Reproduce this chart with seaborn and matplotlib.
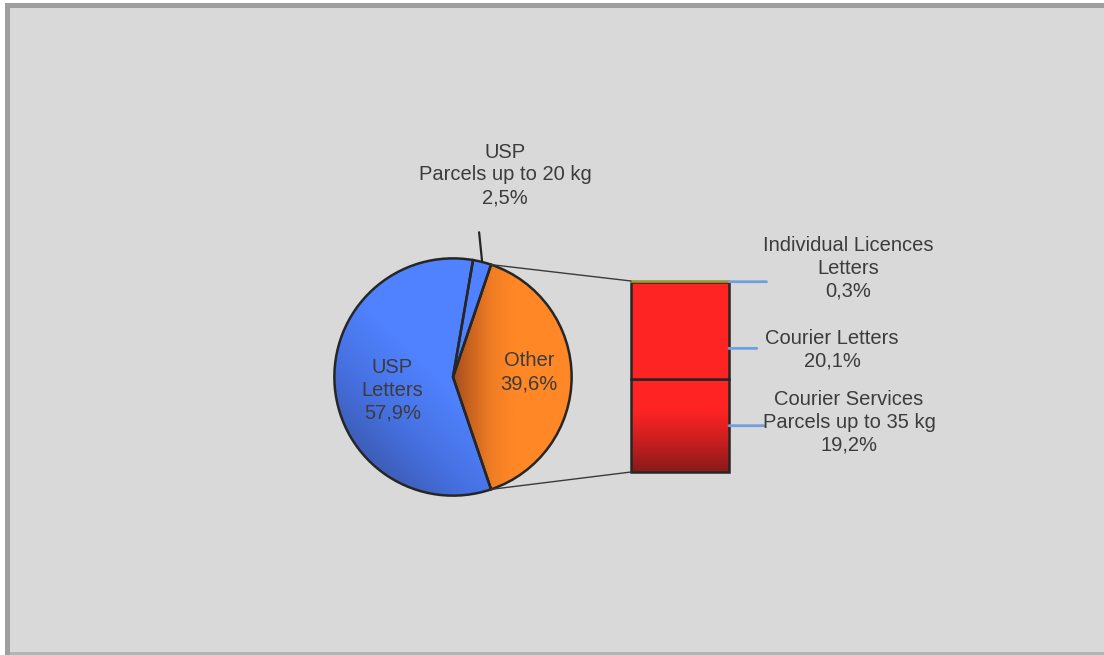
import numpy as np
import matplotlib
matplotlib.use("Agg")
import matplotlib.pyplot as plt
from matplotlib.patches import Rectangle, ConnectionPatch
from matplotlib.colors import LinearSegmentedColormap
import seaborn as sns

# Market shares (%)
pie_labels = ["Other", "USP\nParcels up to 20 kg", "USP\nLetters"]
pie_values = [39.6, 2.5, 57.9]
pie_texts = ["39,6%", "2,5%", "57,9%"]

bar_labels = ["Courier Services\nParcels up to 35 kg", "Courier Letters", "Individual Licences\nLetters"]
bar_values = [19.2, 20.1, 0.3]
bar_texts = ["19,2%", "20,1%", "0,3%"]

sns.set_theme(style="white")
plt.rcParams["font.family"] = ["Liberation Sans", "DejaVu Sans"]

W, H = 1104, 655
fig = plt.figure(figsize=(W / 100, H / 100), dpi=100, facecolor="white")


def fx(px):
    return px / W


def fy(py):
    return (H - py) / H


# frame
fig.patches.append(Rectangle((fx(5), 0), 1.0, (H - 3) / H, transform=fig.transFigure,
                             facecolor="#9e9e9e", edgecolor="none", zorder=-3))
fig.patches.append(Rectangle((fx(10), fy(652)), 1.0, (652 - 8) / H, transform=fig.transFigure,
                             facecolor="#d9d9d9", edgecolor="none", zorder=-2))
fig.patches.append(Rectangle((fx(10), 0), 1.0, 3 / H, transform=fig.transFigure,
                             facecolor="#b4b4b4", edgecolor="none", zorder=-2))

txt_kw = dict(fontsize=14.5, color="#3c3c3c", ha="center", va="center", linespacing=1.24)

# ---- pie ----
cx, cy, r = 453, 377, 121
ax_pie = fig.add_axes([fx(cx - r), fy(cy + r), fx(2 * r), 2 * r / H])
ax_pie.set_facecolor("none")
ax_pie.axis("off")
start = -pie_values[0] * 3.6 / 2
wedges, _ = ax_pie.pie(pie_values, startangle=start, counterclock=True, radius=1,
                       colors=["#ff8624", "#4f80ff", "#4f80ff"],
                       wedgeprops=dict(edgecolor="#262626", linewidth=1.8))
ax_pie.set_xlim(-1.02, 1.02)
ax_pie.set_ylim(-1.02, 1.02)
ax_pie.set_aspect("auto")

n = 300
gx, gy = np.meshgrid(np.linspace(-1, 1, n), np.linspace(-1, 1, n))
blue = LinearSegmentedColormap.from_list("b", ["#3a58a8", "#4670e0", "#5082ff", "#5082ff"])
orange = LinearSegmentedColormap.from_list("o", ["#97461f", "#c8621f", "#f07d24", "#ff8726", "#ff8726"])
grads = [
    (np.clip((gx + 0.05) / 0.75, 0, 1), orange),
    (np.clip((gx + gy + 1.6) / 2.2, 0, 1), blue),
    (np.clip((gx + gy + 1.6) / 2.2, 0, 1), blue),
]
for w, (g, cm) in zip(wedges, grads):
    im = ax_pie.imshow(g, cmap=cm, extent=[-1, 1, -1, 1], origin="lower",
                       zorder=1, interpolation="bilinear", aspect="auto")
    im.set_clip_path(w)
    w.set_facecolor("none")
    w.set_zorder(3)
    w.set_clip_on(False)

# labels inside the pie
ax_pie.text(0.64, 0.04, f"Other\n{pie_texts[0]}", **txt_kw, zorder=5)
ax_pie.text(-0.51, -0.11, f"USP\nLetters\n{pie_texts[2]}", **txt_kw, zorder=5)

# parcels label with leader line
mid = np.deg2rad(start + (pie_values[0] + pie_values[1] / 2) * 3.6)
ax_pie.annotate("", xy=(np.cos(mid), np.sin(mid)), xytext=(0.22, 1.22),
                arrowprops=dict(arrowstyle="-", color="#262626", lw=1.6, shrinkA=0, shrinkB=0),
                zorder=4, annotation_clip=False)
fig.text(fx(505), fy(175), f"{pie_labels[1]}\n{pie_texts[1]}", **txt_kw)

# ---- stacked bar ----
total = sum(bar_values)
bx0, bx1, by0, by1 = 631, 729, 472, 281
ax_bar = fig.add_axes([fx(bx0), fy(by0), fx(bx1 - bx0), (by0 - by1) / H])
ax_bar.set_facecolor("none")
ax_bar.axis("off")
ax_bar.set_xlim(-0.5, 0.5)
ax_bar.set_ylim(0, total)
bottoms = np.concatenate([[0], np.cumsum(bar_values)[:-1]])
bar_colors = ["#ff2424", "#ff2424", "#9c9a2e"]
bars = ax_bar.bar([0] * 3, bar_values, bottom=bottoms, width=1.0, color=bar_colors,
                  edgecolor="#262626", linewidth=1.8, zorder=3, clip_on=False)
bars[2].set_edgecolor("#9c9a2e")
bars[2].set_linewidth(1.2)

# darkening gradient at the base of the first segment
red = LinearSegmentedColormap.from_list("r", ["#8a1a1a", "#c81f1f", "#ff2424", "#ff2424"])
gv = np.linspace(0, 1, 200)[:, None] * np.ones((1, 10))
im = ax_bar.imshow(gv, cmap=red, extent=[-0.5, 0.5, 0, bar_values[0]], origin="lower",
                   aspect="auto", zorder=3.5, interpolation="bilinear")
im.set_clip_path(bars[0])
bars[0].set_facecolor("none")
bars[0].set_zorder(4)
bars[1].set_zorder(4)
bars[2].set_zorder(4.5)

# connectors between pie and bar
for ang, yb in [(start + pie_values[0] * 3.6, total), (start, 0)]:
    a = np.deg2rad(ang)
    con = ConnectionPatch(xyA=(np.cos(a), np.sin(a)), coordsA=ax_pie.transData,
                          xyB=(-0.5, yb), coordsB=ax_bar.transData,
                          color="#3a3a3a", lw=1.0, zorder=2)
    fig.add_artist(con)

# bar labels with leader lines
leader_y = [bar_values[0] / 2, bar_values[0] + bar_values[1] * 0.32, total - bar_values[2] / 2]
leader_len = [25, 20, 27]
label_pos = [(849, 422), (832, 350), (848, 268)]
for lab, t, yv, ln, (px, py) in zip(bar_labels, bar_texts, leader_y, leader_len, label_pos):
    ax_bar.annotate("", xy=(0.5, yv), xytext=(ln, 0), textcoords="offset points",
                    arrowprops=dict(arrowstyle="-", color="#6f9fdf", lw=2, shrinkA=0, shrinkB=0),
                    annotation_clip=False, zorder=5)
    fig.text(fx(px), fy(py), f"{lab}\n{t}", **txt_kw)

fig.savefig("out.png", dpi=100, facecolor=fig.get_facecolor())
